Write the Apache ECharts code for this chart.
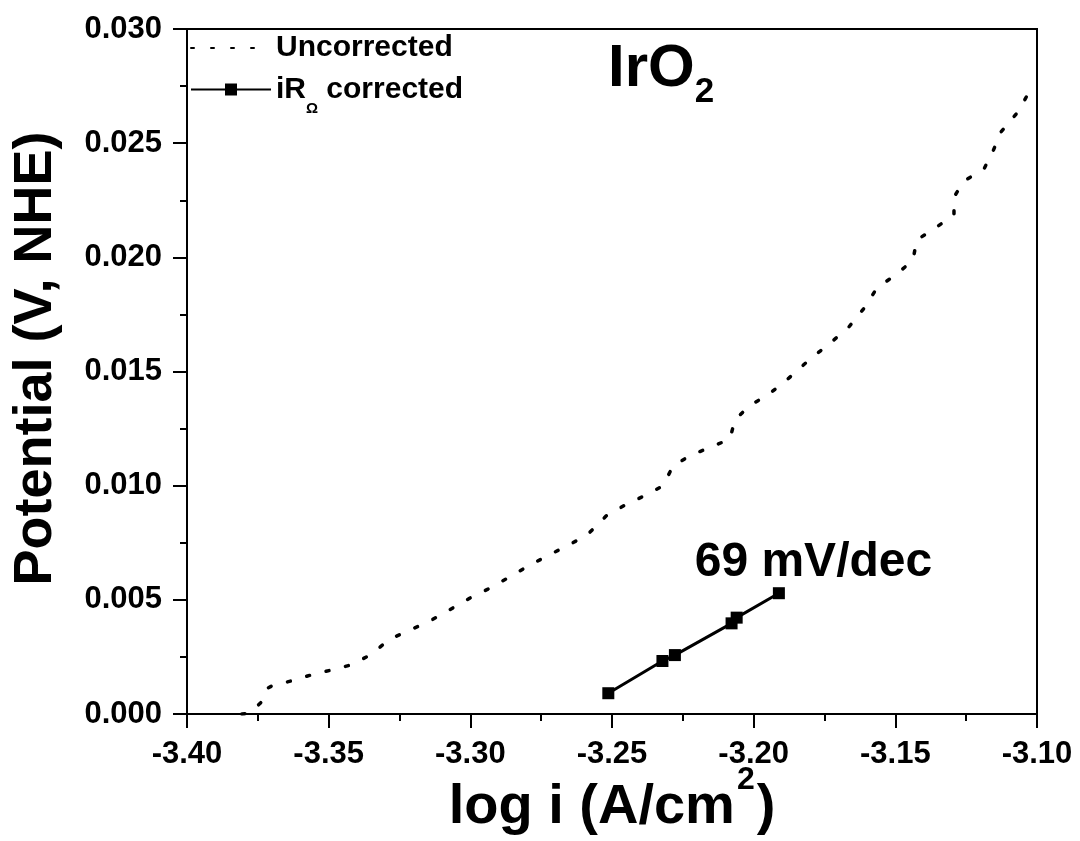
<!DOCTYPE html>
<html>
<head>
<meta charset="utf-8">
<script src="https://cdn.jsdelivr.net/npm/echarts@6/dist/echarts.min.js"></script>
<style>
  html, body { margin: 0; padding: 0; background: #fff; }
  #chart { width: 1080px; height: 841px; }
</style>
</head>
<body>
<div id="chart"></div>
<script>
// ---- data ----
const uncorrectedX = [-3.3806, -3.3778, -3.3736, -3.3714, -3.3700, -3.3629, -3.3562, -3.3489, -3.3421, -3.3354,
  -3.3284, -3.3213, -3.3149, -3.3075, -3.3001, -3.2938, -3.2867, -3.2796, -3.2729, -3.2659,
  -3.2588, -3.2521, -3.2454, -3.2387, -3.2320, -3.2285, -3.2221, -3.2151, -3.2084, -3.2066,
  -3.2016, -3.1946, -3.1875, -3.1805, -3.1734, -3.1664, -3.1607, -3.1565, -3.1494, -3.1438,
  -3.1424, -3.1360, -3.1293, -3.1293, -3.1258, -3.1187, -3.1155, -3.1127, -3.1067, -3.1028, -3.1007];
const uncorrectedY = [0.00000, 0.00004, 0.00054, 0.00114, 0.00123, 0.00146, 0.00171, 0.00193, 0.00215, 0.00258,
  0.00328, 0.00368, 0.00403, 0.00455, 0.00508, 0.00547, 0.00596, 0.00648, 0.00692, 0.00736,
  0.00784, 0.00867, 0.00915, 0.00955, 0.00999, 0.01086, 0.01134, 0.01169, 0.01204, 0.01288,
  0.01349, 0.01401, 0.01472, 0.01550, 0.01620, 0.01695, 0.01782, 0.01866, 0.01927, 0.01988,
  0.02076, 0.02128, 0.02185, 0.02264, 0.02334, 0.02387, 0.02466, 0.02549, 0.02637, 0.02724, 0.02755];
const correctedX = [-3.2513, -3.2322, -3.2278, -3.2078, -3.2060, -3.1911];
const correctedY = [0.00091, 0.00232, 0.00258, 0.00397, 0.00422, 0.00529];
const seriesNames = ['Uncorrected', 'iR corrected'];
const slopeLabel = '69 mV/dec';
const slopeLabelAt = [-3.1789, 0.00664];
const xRange = { min: -3.40, max: -3.10, step: 0.05 };
const yRange = { min: 0, max: 0.030, step: 0.005 };

const FONT = 'Liberation Sans';
const zip = (a, b) => a.map((v, i) => [v, b[i]]);

const chart = echarts.init(document.getElementById('chart'), null, { renderer: 'canvas' });

const axisCommon = {
  axisLine: { show: true, onZero: false, lineStyle: { color: '#000', width: 2 } },
  axisTick: { show: true, inside: false, length: 14, lineStyle: { color: '#000', width: 2 } },
  minorTick: { show: true, splitNumber: 2, length: 7, lineStyle: { color: '#000', width: 2 } },
  splitLine: { show: false },
  minorSplitLine: { show: false },
  nameMoveOverlap: false
};

chart.setOption({
  backgroundColor: '#fff',
  animation: false,
  title: {
    text: '{a|IrO}{b|2}',
    left: 608, top: 39, padding: 0,
    textStyle: {
      rich: {
        a: { fontFamily: FONT, fontWeight: 'bold', fontSize: 60, color: '#000', verticalAlign: 'middle' },
        b: { fontFamily: FONT, fontWeight: 'bold', fontSize: 35, lineHeight: 35, color: '#000', verticalAlign: 'middle', padding: [46, 0, 0, 0] }
      }
    }
  },
  legend: [
    {
      data: [{ name: seriesNames[0], itemStyle: { color: 'rgba(0,0,0,0)', borderWidth: 0 } }],
      left: 190, top: 33, padding: 0,
      itemWidth: 80, itemHeight: 15, itemGap: 6,
      textStyle: { fontFamily: FONT, fontWeight: 'bold', fontSize: 30, color: '#000' }
    },
    {
      data: [seriesNames[1]],
      left: 190, top: 63, padding: 0,
      itemWidth: 80, itemHeight: 15, itemGap: 6,
      formatter: () => '{a|iR}{s|Ω}{a| corrected}',
      textStyle: {
        fontFamily: FONT, fontWeight: 'bold', fontSize: 30, color: '#000',
        rich: {
          a: { fontFamily: FONT, fontWeight: 'bold', fontSize: 30, color: '#000', verticalAlign: 'middle' },
          s: { fontFamily: FONT, fontWeight: 'bold', fontSize: 15, lineHeight: 15, color: '#000', verticalAlign: 'middle', padding: [38, 0, 0, 0] }
        }
      }
    }
  ],
  grid: {
    left: 187, right: 43, top: 29, bottom: 127,
    containLabel: false, outerBoundsMode: 'none',
    show: true, borderColor: '#000', borderWidth: 2, backgroundColor: 'transparent'
  },
  xAxis: Object.assign({
    type: 'value',
    min: xRange.min, max: xRange.max, interval: xRange.step,
    name: '{a|log i (A/cm}{b|2}{a|)}',
    nameLocation: 'middle', nameGap: 66,
    nameTextStyle: {
      rich: {
        a: { fontFamily: FONT, fontWeight: 'bold', fontSize: 56, color: '#000', verticalAlign: 'middle' },
        b: { fontFamily: FONT, fontWeight: 'bold', fontSize: 32, lineHeight: 32, color: '#000', verticalAlign: 'middle', padding: [0, 2, 56, 2] }
      }
    },
    axisLabel: {
      margin: 25, color: '#000', fontFamily: FONT, fontWeight: 'bold', fontSize: 31,
      formatter: v => v.toFixed(2)
    }
  }, axisCommon),
  yAxis: Object.assign({
    type: 'value',
    min: yRange.min, max: yRange.max, interval: yRange.step,
    name: 'Potential (V, NHE)',
    nameLocation: 'middle', nameGap: 124,
    nameTextStyle: { fontFamily: FONT, fontWeight: 'bold', fontSize: 54, color: '#000', padding: [0, 0, 0, 26] },
    axisLabel: {
      margin: 25, color: '#000', fontFamily: FONT, fontWeight: 'bold', fontSize: 31,
      formatter: v => v.toFixed(3)
    }
  }, axisCommon),
  series: [
    {
      name: seriesNames[0],
      type: 'line',
      data: zip(uncorrectedX, uncorrectedY),
      symbol: 'none',
      showSymbol: false,
      smooth: false,
      lineStyle: { color: '#000', width: 3.5, type: [3, 17], cap: 'round' },
      itemStyle: { color: '#000' },
      z: 2
    },
    {
      name: seriesNames[1],
      type: 'line',
      data: zip(correctedX, correctedY),
      symbol: 'rect',
      symbolSize: 12,
      lineStyle: { color: '#000', width: 3 },
      itemStyle: { color: '#000' },
      z: 3,
      markPoint: {
        symbol: 'circle', symbolSize: 0,
        data: [{ coord: slopeLabelAt, value: slopeLabel }],
        label: {
          show: true, position: 'inside', formatter: slopeLabel,
          fontFamily: FONT, fontWeight: 'bold', fontSize: 48, color: '#000'
        }
      }
    }
  ]
});
</script>
</body>
</html>
